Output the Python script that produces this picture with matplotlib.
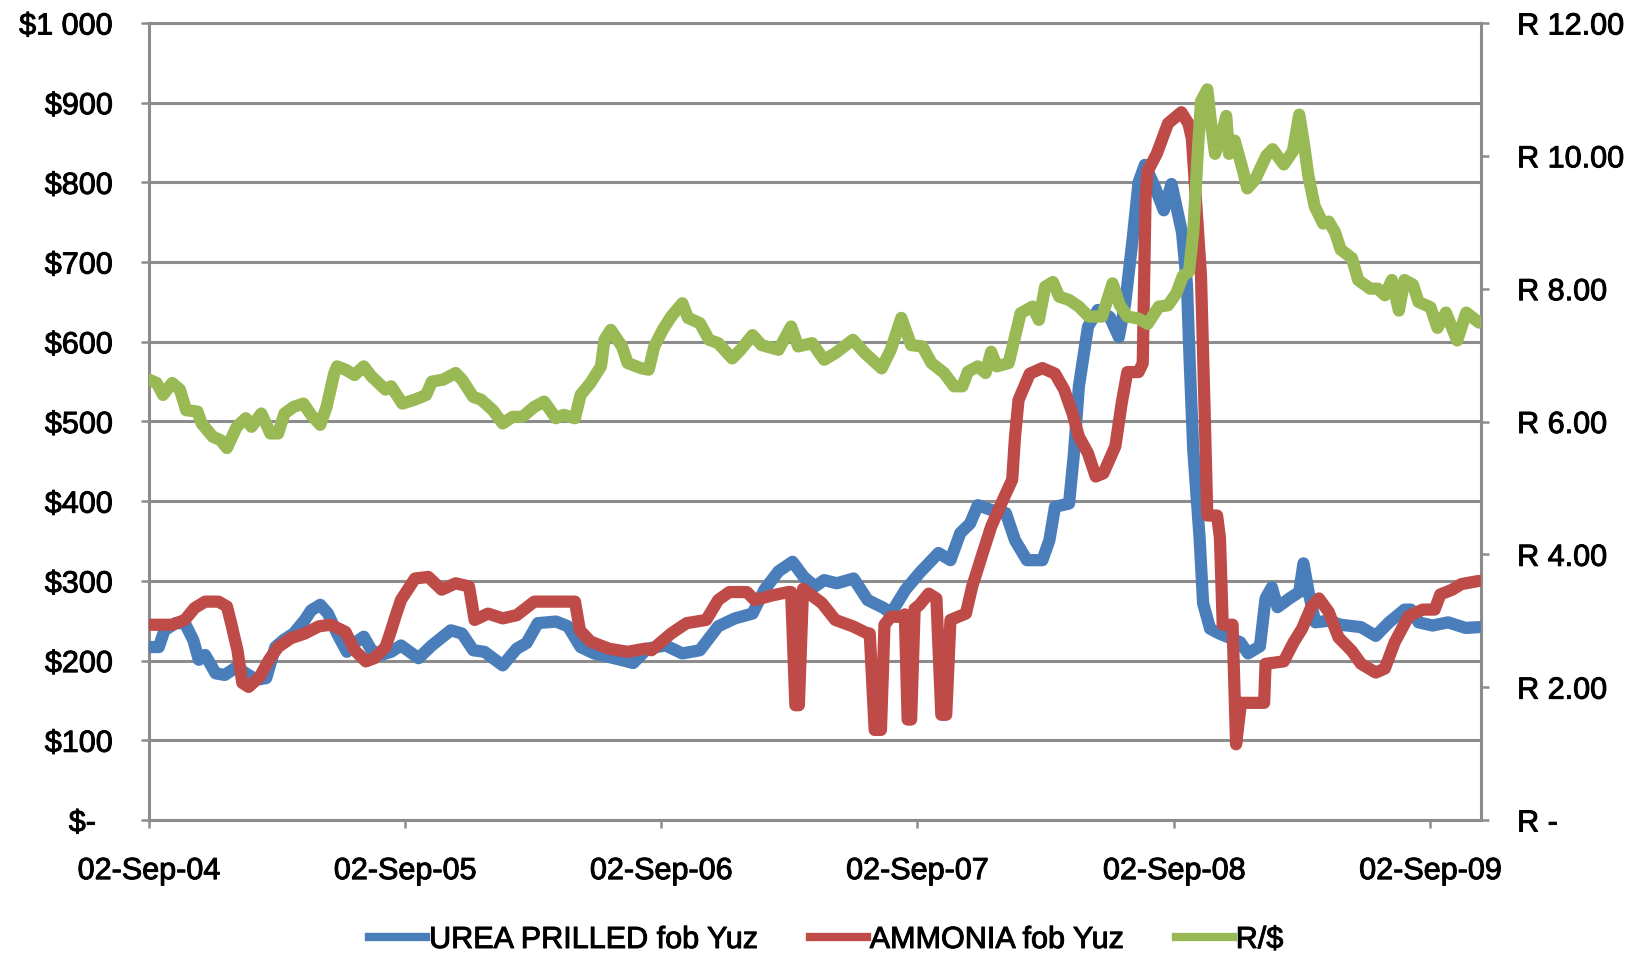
import matplotlib
matplotlib.use("Agg")
import matplotlib.pyplot as plt
import matplotlib.dates as mdates
import matplotlib.patheffects as pe
from matplotlib.lines import Line2D
import pandas as pd

# ---------------- data ----------------
urea_dates = [
    "2004-09-02", "2004-09-16", "2004-09-24", "2004-10-10", "2004-10-23", "2004-11-04",
    "2004-11-12", "2004-11-21", "2004-12-06", "2004-12-19", "2005-01-05", "2005-01-18",
    "2005-02-02", "2005-02-16", "2005-03-01", "2005-03-13", "2005-03-27", "2005-04-12",
    "2005-04-21", "2005-05-04", "2005-05-15", "2005-05-28", "2005-06-11", "2005-06-22",
    "2005-07-05", "2005-07-16", "2005-07-29", "2005-08-13", "2005-08-27", "2005-09-21",
    "2005-10-10", "2005-11-06", "2005-11-22", "2005-12-08", "2005-12-24", "2006-01-19",
    "2006-02-08", "2006-02-22", "2006-03-10", "2006-04-05", "2006-04-22", "2006-05-10",
    "2006-05-29", "2006-06-27", "2006-07-24", "2006-08-13", "2006-09-08", "2006-10-02",
    "2006-10-27", "2006-11-22", "2006-12-16", "2007-01-10", "2007-01-27", "2007-02-16",
    "2007-03-08", "2007-03-24", "2007-04-09", "2007-04-22", "2007-05-10", "2007-06-03",
    "2007-06-23", "2007-07-16", "2007-07-26", "2007-08-16", "2007-09-05", "2007-10-02",
    "2007-10-19", "2007-11-02", "2007-11-16", "2007-11-27", "2007-12-16", "2008-01-06",
    "2008-01-19", "2008-02-05", "2008-02-27", "2008-03-08", "2008-03-16", "2008-04-05",
    "2008-04-12", "2008-04-19", "2008-05-02", "2008-05-16", "2008-06-02", "2008-06-15",
    "2008-06-24", "2008-07-05", "2008-07-13", "2008-07-22", "2008-08-05", "2008-08-18",
    "2008-08-29", "2008-09-13", "2008-09-20", "2008-09-24", "2008-09-29", "2008-10-08",
    "2008-10-13", "2008-10-23", "2008-11-05", "2008-12-05", "2008-12-16", "2009-01-02",
    "2009-01-10", "2009-01-19", "2009-01-27", "2009-02-13", "2009-02-27", "2009-03-05",
    "2009-03-13", "2009-03-22", "2009-04-10", "2009-04-27", "2009-05-26", "2009-06-16",
    "2009-07-05", "2009-07-27", "2009-08-05", "2009-08-16", "2009-09-05", "2009-09-27",
    "2009-10-22", "2009-11-10",
]
urea_usd = [
    217, 217, 238, 247, 247, 226,
    201, 207, 184, 182, 192, 184,
    176, 178, 217, 226, 234, 251,
    263, 270, 259, 234, 211, 222,
    230, 213, 207, 211, 219, 203,
    219, 238, 234, 213, 211, 194,
    215, 222, 247, 249, 243, 217,
    209, 203, 197, 215, 219, 209,
    213, 243, 253, 259, 289, 312,
    324, 305, 293, 301, 297, 303,
    276, 266, 259, 289, 310, 335,
    326, 360, 372, 395, 389, 385,
    351, 326, 326, 351, 393, 397,
    460, 544, 619, 640, 631, 606,
    648, 732, 800, 822, 795, 765,
    798, 737, 672, 573, 464, 354,
    272, 240, 234, 223, 209, 218,
    278, 292, 267, 278, 286, 322,
    283, 248, 250, 245, 242, 231,
    248, 264, 264, 248, 244, 248,
    241, 242,
]

ammonia_dates = [
    "2004-09-02", "2004-10-05", "2004-10-23", "2004-11-06", "2004-11-21", "2004-12-10",
    "2004-12-22", "2004-12-28", "2005-01-06", "2005-01-13", "2005-01-22", "2005-02-07",
    "2005-02-20", "2005-03-05", "2005-03-23", "2005-04-12", "2005-05-02", "2005-05-19",
    "2005-06-09", "2005-06-22", "2005-07-08", "2005-07-20", "2005-08-05", "2005-08-13",
    "2005-08-19", "2005-08-27", "2005-09-16", "2005-10-05", "2005-10-24", "2005-11-13",
    "2005-12-02", "2005-12-10", "2005-12-29", "2006-01-19", "2006-02-08", "2006-03-05",
    "2006-05-02", "2006-05-09", "2006-05-24", "2006-06-19", "2006-07-16", "2006-08-10",
    "2006-08-19", "2006-09-16", "2006-10-08", "2006-11-05", "2006-11-22", "2006-12-08",
    "2007-01-02", "2007-01-13", "2007-02-08", "2007-03-02", "2007-03-06", "2007-03-12",
    "2007-03-17", "2007-03-23", "2007-04-19", "2007-05-08", "2007-06-02", "2007-06-23",
    "2007-06-26", "2007-07-03", "2007-07-12", "2007-07-17", "2007-07-26", "2007-08-10",
    "2007-08-15", "2007-08-19", "2007-08-24", "2007-08-29", "2007-09-05", "2007-09-18",
    "2007-09-29", "2007-10-06", "2007-10-13", "2007-10-19", "2007-11-10", "2007-11-19",
    "2007-12-04", "2007-12-16", "2008-01-02", "2008-01-15", "2008-01-19", "2008-01-24",
    "2008-02-09", "2008-02-27", "2008-03-16", "2008-03-29", "2008-04-10", "2008-04-19",
    "2008-05-02", "2008-05-13", "2008-05-24", "2008-06-10", "2008-06-19", "2008-06-27",
    "2008-07-13", "2008-07-19", "2008-07-23", "2008-07-26", "2008-08-08", "2008-08-16",
    "2008-08-24", "2008-09-12", "2008-09-22", "2008-09-27", "2008-10-10", "2008-10-15",
    "2008-10-19", "2008-11-02", "2008-11-06", "2008-11-10", "2008-11-24", "2008-11-29",
    "2008-12-06", "2009-01-08", "2009-01-10", "2009-02-05", "2009-02-19", "2009-03-03",
    "2009-03-16", "2009-03-27", "2009-04-10", "2009-04-24", "2009-05-13", "2009-05-26",
    "2009-06-16", "2009-06-29", "2009-07-13", "2009-08-02", "2009-08-22", "2009-09-08",
    "2009-09-16", "2009-10-03", "2009-10-16", "2009-11-10",
]
ammonia_usd = [
    245, 245, 251, 266, 274, 274,
    268, 247, 213, 172, 167, 180,
    201, 217, 228, 234, 243, 245,
    236, 213, 199, 203, 217, 238,
    255, 276, 303, 305, 289, 297,
    293, 251, 259, 253, 257, 274,
    274, 238, 224, 215, 211, 215,
    213, 234, 247, 251, 276, 286,
    286, 276, 282, 286, 286, 144,
    144, 290, 272, 251, 243, 234,
    234, 113, 113, 245, 255, 255,
    258, 126, 126, 265, 270, 284,
    278, 132, 132, 251, 259, 293,
    335, 368, 402, 427, 481, 527,
    560, 567, 560, 540, 510, 481,
    460, 431, 435, 469, 523, 562,
    562, 573, 780, 814, 836, 855,
    874, 888, 874, 855, 683, 519,
    382, 382, 354, 245, 245, 95,
    147, 147, 196, 199, 223, 240,
    267, 278, 261, 229, 212, 196,
    185, 190, 223, 256, 264, 264,
    283, 289, 296, 300,
]

zar_dates = [
    "2004-09-02", "2004-09-13", "2004-09-22", "2004-10-05", "2004-10-16", "2004-10-25",
    "2004-11-10", "2004-11-16", "2004-12-02", "2004-12-13", "2004-12-22", "2005-01-05",
    "2005-01-18", "2005-01-26", "2005-02-09", "2005-02-22", "2005-03-05", "2005-03-14",
    "2005-03-27", "2005-04-10", "2005-04-21", "2005-05-04", "2005-05-13", "2005-05-24",
    "2005-05-28", "2005-06-09", "2005-06-22", "2005-07-05", "2005-07-16", "2005-08-05",
    "2005-08-13", "2005-08-29", "2005-09-16", "2005-10-02", "2005-10-10", "2005-10-26",
    "2005-11-13", "2005-11-22", "2005-12-08", "2005-12-19", "2006-01-05", "2006-01-19",
    "2006-02-02", "2006-02-16", "2006-03-05", "2006-03-19", "2006-04-05", "2006-04-16",
    "2006-05-02", "2006-05-10", "2006-05-24", "2006-06-08", "2006-06-13", "2006-06-22",
    "2006-07-08", "2006-07-16", "2006-08-05", "2006-08-15", "2006-08-23", "2006-09-04",
    "2006-09-16", "2006-10-02", "2006-10-10", "2006-10-27", "2006-11-09", "2006-11-22",
    "2006-12-12", "2006-12-24", "2007-01-10", "2007-01-23", "2007-02-16", "2007-03-06",
    "2007-03-16", "2007-04-05", "2007-04-22", "2007-05-08", "2007-06-02", "2007-06-19",
    "2007-07-13", "2007-07-26", "2007-08-10", "2007-08-24", "2007-09-09", "2007-09-22",
    "2007-10-10", "2007-10-24", "2007-11-05", "2007-11-13", "2007-11-27", "2007-12-08",
    "2007-12-16", "2007-12-24", "2008-01-10", "2008-01-19", "2008-01-27", "2008-02-13",
    "2008-02-22", "2008-03-02", "2008-03-13", "2008-03-22", "2008-04-05", "2008-04-19",
    "2008-05-03", "2008-05-22", "2008-06-06", "2008-06-16", "2008-06-27", "2008-07-13",
    "2008-07-26", "2008-08-11", "2008-08-24", "2008-09-05", "2008-09-14", "2008-09-23",
    "2008-09-29", "2008-10-06", "2008-10-10", "2008-10-19", "2008-10-25", "2008-10-30",
    "2008-11-08", "2008-11-15", "2008-11-19", "2008-11-27", "2008-12-09", "2008-12-15",
    "2008-12-26", "2009-01-11", "2009-01-20", "2009-02-05", "2009-02-18", "2009-02-27",
    "2009-03-05", "2009-03-12", "2009-03-21", "2009-04-02", "2009-04-10", "2009-04-19",
    "2009-04-27", "2009-05-13", "2009-05-22", "2009-06-08", "2009-06-19", "2009-06-29",
    "2009-07-09", "2009-07-19", "2009-07-27", "2009-08-08", "2009-08-16", "2009-09-02",
    "2009-09-12", "2009-09-24", "2009-10-10", "2009-10-23", "2009-11-10",
]
zar_per_usd = [
    6.63, 6.58, 6.40, 6.58, 6.48, 6.17,
    6.15, 5.97, 5.77, 5.72, 5.60, 5.92,
    6.05, 5.92, 6.12, 5.82, 5.82, 6.12,
    6.22, 6.27, 6.10, 5.95, 6.22, 6.73,
    6.83, 6.78, 6.70, 6.83, 6.68, 6.48,
    6.53, 6.27, 6.33, 6.40, 6.60, 6.63,
    6.73, 6.63, 6.37, 6.33, 6.17, 5.97,
    6.07, 6.07, 6.22, 6.30, 6.05, 6.10,
    6.05, 6.40, 6.58, 6.83, 7.23, 7.38,
    7.13, 6.88, 6.80, 6.78, 7.13, 7.38,
    7.58, 7.78, 7.56, 7.48, 7.23, 7.18,
    6.95, 7.08, 7.30, 7.15, 7.08, 7.43,
    7.13, 7.18, 6.93, 7.03, 7.23, 7.03,
    6.80, 7.08, 7.56, 7.15, 7.13, 6.88,
    6.73, 6.53, 6.53, 6.75, 6.83, 6.73,
    7.05, 6.83, 6.88, 7.28, 7.63, 7.73,
    7.53, 8.03, 8.10, 7.88, 7.83, 7.73,
    7.58, 7.58, 8.08, 7.76, 7.58, 7.55,
    7.47, 7.73, 7.75, 7.93, 8.19, 8.26,
    8.85, 10.16, 10.82, 11.00, 10.43, 10.03,
    10.30, 10.60, 10.03, 10.23, 9.77, 9.51,
    9.64, 10.00, 10.10, 9.87, 10.07, 10.62,
    10.23, 9.70, 9.24, 8.98, 9.01, 8.85,
    8.59, 8.46, 8.13, 8.00, 8.00, 7.90,
    8.13, 7.67, 8.13, 8.06, 7.80, 7.72,
    7.41, 7.64, 7.22, 7.64, 7.49,
]

usd_ticks = [0, 100, 200, 300, 400, 500, 600, 700, 800, 900, 1000]
usd_labels = ["$-  ", "$100", "$200", "$300", "$400", "$500", "$600",
              "$700", "$800", "$900", "$1 000"]
zar_ticks = [0, 2, 4, 6, 8, 10, 12]
zar_labels = ["R -", "R 2.00", "R 4.00", "R 6.00", "R 8.00", "R 10.00", "R 12.00"]
x_tick_dates = ["2004-09-02", "2005-09-02", "2006-09-02", "2007-09-02",
                "2008-09-02", "2009-09-02"]
x_range = ["2004-09-02", "2009-11-13"]
series_labels = ["UREA PRILLED fob Yuz", "AMMONIA fob Yuz", "R/$"]

# ---------------- style ----------------
FONT = ["Liberation Sans", "DejaVu Sans"]
plt.rcParams["font.family"] = FONT
FS = 22
GRID = "#8c8c8c"
BLUE = "#4a7ebb"
RED = "#be4b48"
GREEN = "#98b954"
LW = 8.8
HEAVY = [pe.withStroke(linewidth=0.7, foreground="black")]

W, H = 1634, 957
fig = plt.figure(figsize=(W / 100, H / 100), dpi=100)
left, right, top, bottom = 149, 1481, 23, 820
ax = fig.add_axes([left / W, 1 - bottom / H, (right - left) / W, (bottom - top) / H])
ax2 = ax.twinx()

line_kw = dict(lw=LW, solid_joinstyle="round", solid_capstyle="round")
ax.plot(pd.to_datetime(urea_dates), urea_usd, color=BLUE, zorder=3, **line_kw)
ax.plot(pd.to_datetime(ammonia_dates), ammonia_usd, color=RED, zorder=4, **line_kw)
ax2.plot(pd.to_datetime(zar_dates), zar_per_usd, color=GREEN, zorder=5, **line_kw)

ax.set_xlim(pd.to_datetime(x_range[0]), pd.to_datetime(x_range[1]))
ax.set_ylim(0, 1000)
ax2.set_ylim(0, 12)

ax.set_yticks(usd_ticks)
ax.set_yticklabels(usd_labels)
ax2.set_yticks(zar_ticks)
ax2.set_yticklabels(zar_labels)
ax.set_xticks(pd.to_datetime(x_tick_dates))
ax.xaxis.set_major_formatter(mdates.DateFormatter("%d-%b-%y"))

ax.yaxis.grid(True, color=GRID, lw=2.2)
ax.set_axisbelow(True)

for s in ax.spines.values():
    s.set_color(GRID)
    s.set_linewidth(2.2)
for s in ax2.spines.values():
    s.set_visible(False)

tick_kw = dict(direction="out", length=6, width=1.8, color=GRID, pad=20,
               labelsize=FS, labelcolor="black")
ax.tick_params(axis="both", **tick_kw)
ax2.tick_params(axis="y", **tick_kw)

fig.canvas.draw()
for t in ax.get_xticklabels() + ax.get_yticklabels() + ax2.get_yticklabels():
    t.set_path_effects(HEAVY)

leg = fig.legend([Line2D([], [], color=c, lw=6) for c in (BLUE, RED, GREEN)],
                 series_labels, loc="center", bbox_to_anchor=(826 / W, 1 - 940 / H),
                 ncol=3, frameon=False, fontsize=FS, handlelength=1.87,
                 handletextpad=0.1, columnspacing=1.7, borderpad=0)
for t in leg.get_texts():
    t.set_path_effects(HEAVY)

fig.savefig("out.png", dpi=100)
